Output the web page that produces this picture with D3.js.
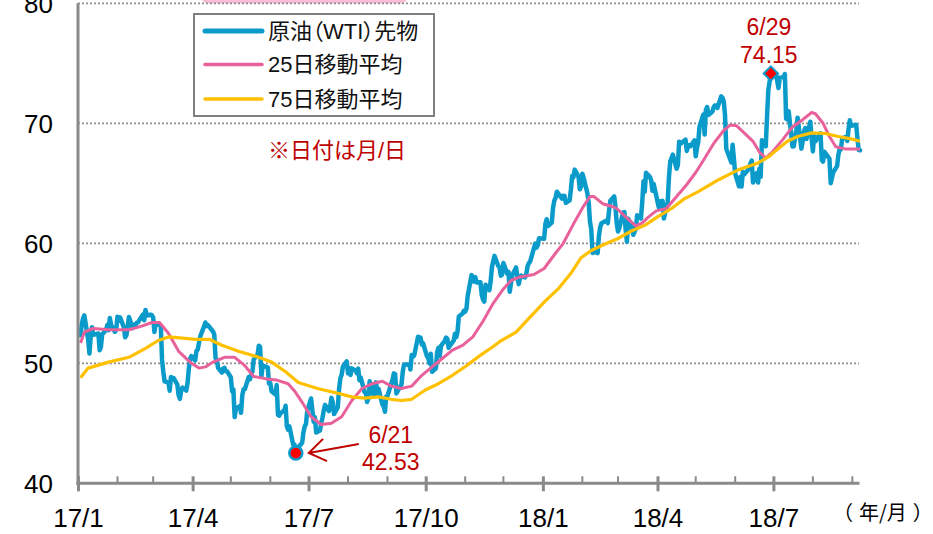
<!DOCTYPE html>
<html>
<head>
<meta charset="utf-8">
<script src="https://cdn.jsdelivr.net/npm/d3@7"></script>
<style>
  html, body { margin: 0; padding: 0; background: #fff; }
  svg { display: block; }
  text { font-family: "Liberation Sans", Arial, "Noto Sans CJK JP", sans-serif; }
  .unit { font-family: "Noto Sans CJK JP", sans-serif; }
</style>
</head>
<body>
<svg id="chart" width="933" height="534"></svg>
<script>
// WTI front-month settlement prices (USD/bbl), one row per month: "day:price"
const wtiMonths = [
  "2017-01","2017-02","2017-03","2017-04","2017-05","2017-06","2017-07","2017-08","2017-09",
  "2017-10","2017-11","2017-12","2018-01","2018-02","2018-03","2018-04","2018-05","2018-06",
  "2018-07","2018-08","2018-09"
];
const wtiCloses = [
  "3:52.33 4:53.26 5:53.76 6:53.99 9:51.96 10:50.82 11:52.25 12:53.01 13:52.37 17:52.48 18:51.08 19:51.37 20:52.42 23:52.75 24:53.18 25:52.75 26:53.78 27:53.17 30:52.63 31:52.81",
  "1:53.88 2:53.54 3:53.83 6:53.01 7:52.17 8:52.34 9:53.00 10:53.86 13:52.93 14:53.20 15:53.11 16:53.36 17:53.40 21:54.06 22:53.59 23:54.45 24:53.99 27:54.05 28:54.01",
  "1:53.83 2:52.61 3:53.33 6:53.20 7:53.14 8:50.28 9:49.28 10:48.49 13:48.40 14:47.72 15:48.86 16:48.75 17:48.78 20:48.22 21:47.34 22:47.04 23:47.70 24:47.97 27:47.73 28:48.37 29:49.51 30:50.35 31:50.60",
  "3:50.24 4:51.03 5:51.15 6:51.70 7:52.24 10:53.08 11:53.40 12:53.11 13:53.18 17:52.65 18:52.41 19:50.44 20:50.27 21:49.62 24:49.23 25:49.56 26:49.62 27:49.33 28:49.33",
  "1:48.84 2:47.66 3:47.82 4:45.52 5:46.22 8:46.43 9:45.88 10:47.33 11:47.83 12:47.84 15:48.85 16:48.66 17:49.07 18:49.35 19:50.33 22:50.73 23:51.47 24:51.36 25:48.90 26:49.80 30:49.66 31:48.32",
  "1:48.36 2:47.66 5:47.40 6:48.19 7:45.72 8:45.64 9:45.83 12:46.08 13:46.46 14:44.73 15:44.46 16:44.74 19:43.20 20:43.23 21:42.53 22:42.74 23:43.01 26:43.38 27:44.24 28:44.74 29:44.93 30:46.04",
  "3:47.07 5:45.13 6:45.52 7:44.23 10:44.40 11:45.04 12:45.49 13:46.08 14:46.54 17:46.02 18:46.40 19:47.12 20:46.79 21:45.77 24:46.34 25:47.89 26:48.75 27:49.04 28:49.71 31:50.17",
  "1:49.16 2:49.59 3:49.03 4:49.58 7:49.39 8:49.17 9:49.56 10:48.59 11:48.82 14:47.59 15:47.55 16:46.78 17:47.09 18:48.51 21:47.37 22:47.64 23:48.41 24:47.43 25:47.87 28:46.57 29:46.44 30:45.96 31:47.23",
  "1:47.29 5:48.66 6:49.16 7:49.09 8:47.48 11:48.07 12:48.23 13:49.30 14:49.89 15:49.89 18:49.91 19:49.48 20:50.69 21:50.55 22:50.66 25:52.22 26:51.88 27:52.14 28:51.56 29:51.67",
  "2:50.58 3:50.42 4:49.98 5:50.79 6:49.29 9:49.58 10:50.92 11:51.30 12:50.60 13:51.45 16:51.87 17:52.15 18:52.04 19:51.29 20:51.47 23:51.90 24:52.47 25:52.18 26:52.64 27:53.90 30:54.15 31:54.38",
  "1:54.30 2:54.54 3:55.64 6:57.35 7:57.20 8:56.81 9:57.17 10:56.74 13:56.76 14:55.70 15:55.33 16:55.14 17:56.55 20:56.09 21:56.83 22:58.02 24:58.95 27:58.11 28:57.99 29:57.30 30:57.40",
  "1:58.36 4:57.47 5:57.62 6:55.96 7:56.69 8:57.36 11:57.99 12:57.14 13:56.60 14:57.04 15:57.30 18:57.16 19:57.46 20:58.09 21:58.36 22:58.47 26:59.97 27:59.64 28:59.84 29:60.42",
  "2:60.37 3:61.63 4:62.01 5:61.44 8:61.73 9:62.96 10:63.57 11:63.80 12:64.30 16:63.73 17:63.97 18:63.95 19:63.37 22:63.57 23:64.47 24:65.61 25:65.51 26:66.14 29:65.56 30:64.50 31:64.73",
  "1:65.80 2:65.45 5:64.15 6:63.39 7:61.79 8:61.15 9:59.20 12:59.29 13:59.19 14:60.60 15:61.34 16:61.68 20:61.90 21:61.68 22:62.77 23:63.55 26:63.91 27:63.01 28:61.64",
  "1:60.99 2:61.25 5:62.57 6:62.60 7:61.15 8:60.12 9:62.04 12:61.36 13:60.71 14:60.96 15:61.19 16:62.34 19:62.06 20:63.40 21:65.17 22:64.30 23:65.88 26:65.55 27:65.25 28:64.38 29:64.94",
  "2:63.01 3:63.51 4:63.37 5:63.54 6:62.06 9:63.42 10:65.51 11:66.82 12:67.07 13:67.39 16:66.22 17:66.52 18:68.47 19:68.29 20:68.38 23:68.64 24:67.70 25:68.05 26:68.19 27:68.10 30:68.57",
  "1:67.25 2:67.93 3:68.43 4:69.72 7:70.73 8:69.06 9:71.14 10:71.36 11:70.70 14:70.96 15:71.31 16:71.49 17:71.49 18:71.28 21:72.24 22:72.13 23:71.84 24:70.71 25:67.88 29:66.73 30:68.21 31:67.04",
  "1:65.81 4:64.75 5:65.52 6:64.73 7:65.95 8:65.74 11:66.10 12:66.36 13:66.64 14:66.89 15:65.06 18:65.85 19:65.07 20:66.22 21:65.54 22:68.58 25:68.08 26:70.53 27:72.76 28:73.45 29:74.15",
  "2:73.94 3:74.14 5:72.94 6:73.80 9:73.85 10:74.11 11:70.38 12:70.33 13:71.01 16:68.06 17:68.08 18:68.76 19:69.46 20:70.46 23:67.89 24:68.52 25:69.30 26:69.61 27:68.69 30:70.13 31:68.76",
  "1:67.66 2:68.96 3:68.49 6:69.01 7:69.17 8:66.94 9:66.81 10:67.63 13:67.20 14:67.04 15:65.01 16:65.46 17:65.91 20:66.43 21:67.35 22:67.86 23:67.83 24:68.72 27:68.87 28:68.53 29:69.51 30:70.25 31:69.80",
  "4:69.87 5:68.72 6:67.77 7:67.75"
];

// 25-day moving average
const ma25 = [
  ["2017-01-03",51.7],["2017-01-06",52.6],["2017-01-13",52.9],["2017-01-25",52.8],["2017-02-10",52.8],
  ["2017-02-20",53.1],["2017-02-28",53.4],["2017-03-06",53.4],["2017-03-13",52.5],["2017-03-21",51.0],
  ["2017-03-31",50.0],["2017-04-06",49.6],["2017-04-11",49.7],["2017-04-17",50.1],["2017-04-26",50.5],
  ["2017-05-04",50.5],["2017-05-12",49.8],["2017-05-19",48.9],["2017-05-29",48.7],["2017-06-06",48.6],
  ["2017-06-15",48.3],["2017-06-20",47.7],["2017-06-26",46.75],["2017-07-03",45.55],["2017-07-11",44.9],
  ["2017-07-19",45.0],["2017-07-27",45.55],["2017-08-04",46.9],["2017-08-12",47.9],["2017-08-20",48.3],
  ["2017-08-28",48.5],["2017-09-04",48.1],["2017-09-12",47.9],["2017-09-20",48.1],["2017-09-28",49.0],
  ["2017-10-06",49.7],["2017-10-14",50.4],["2017-10-22",51.1],["2017-10-30",51.5],["2017-11-07",52.2],
  ["2017-11-15",53.5],["2017-11-23",55.0],["2017-12-01",56.2],["2017-12-07",56.9],["2017-12-14",57.2],
  ["2017-12-25",57.4],["2018-01-02",57.9],["2018-01-09",58.9],["2018-01-17",60.0],["2018-01-25",61.6],
  ["2018-02-02",63.1],["2018-02-07",63.9],["2018-02-10",63.9],["2018-02-17",63.3],["2018-02-25",63.05],
  ["2018-02-28",62.9],["2018-03-07",62.2],["2018-03-15",61.45],["2018-03-20",61.7],["2018-03-25",62.2],
  ["2018-03-31",62.7],["2018-04-08",62.9],["2018-04-16",63.9],["2018-04-24",64.9],["2018-05-01",65.9],
  ["2018-05-07",66.9],["2018-05-15",68.3],["2018-05-23",69.4],["2018-05-28",69.85],["2018-06-02",69.8],
  ["2018-06-07",69.3],["2018-06-15",68.5],["2018-06-20",67.6],["2018-06-25",67.1],["2018-06-30",67.6],
  ["2018-07-08",68.6],["2018-07-16",69.7],["2018-07-24",70.3],["2018-07-31",70.9],["2018-08-03",70.8],
  ["2018-08-09",70.0],["2018-08-14",68.9],["2018-08-19",68.05],["2018-08-27",67.85],["2018-09-07",67.85]
];

// 75-day moving average
const ma75 = [
  ["2017-01-03",48.8],["2017-01-09",49.6],["2017-01-25",50.1],["2017-02-10",50.5],["2017-02-23",51.25],
  ["2017-03-05",51.9],["2017-03-13",52.2],["2017-03-24",52.1],["2017-04-03",52.0],["2017-04-14",52.0],
  ["2017-04-24",51.5],["2017-05-07",51.0],["2017-05-20",50.6],["2017-06-02",50.1],["2017-06-13",49.3],
  ["2017-06-23",48.4],["2017-07-08",47.9],["2017-07-24",47.5],["2017-08-04",47.2],["2017-08-14",47.1],
  ["2017-08-25",47.2],["2017-09-04",47.0],["2017-09-12",46.9],["2017-09-20",47.0],["2017-10-01",47.8],
  ["2017-10-11",48.3],["2017-10-22",49.0],["2017-11-02",49.8],["2017-11-12",50.6],["2017-11-23",51.4],
  ["2017-11-28",51.8],["2017-12-11",52.6],["2017-12-21",53.75],["2018-01-03",55.2],["2018-01-13",56.2],
  ["2018-01-23",57.5],["2018-01-31",58.8],["2018-02-08",59.4],["2018-02-18",59.9],["2018-03-01",60.4],
  ["2018-03-11",61.0],["2018-03-22",61.5],["2018-04-01",62.2],["2018-04-12",62.9],["2018-04-22",63.7],
  ["2018-05-03",64.3],["2018-05-19",65.3],["2018-06-03",66.1],["2018-06-19",66.7],["2018-06-27",67.2],
  ["2018-07-05",67.9],["2018-07-12",68.5],["2018-07-20",68.9],["2018-07-31",69.2],["2018-08-11",69.15],
  ["2018-08-21",68.9],["2018-08-31",68.7],["2018-09-07",68.5]
];

const yTicks = [40, 50, 60, 70, 80];
const quarterTicks = ["2017-01-01","2017-04-01","2017-07-01","2017-10-01","2018-01-01","2018-04-01","2018-07-01"];
const xTickLabels = ["17/1","17/4","17/7","17/10","18/1","18/4","18/7"];
const legendLabels = ["原油（WTI）先物", "25日移動平均", "75日移動平均"];
const unitParts = ["（", "年/月", "）"];
const lowPoint  = { date: "2017-06-21", value: 42.53, label: "6/21" };
const highPoint = { date: "2018-06-29", value: 74.15, label: "6/29" };

const parse = d3.timeParse("%Y-%m-%d");
const wti = [];
wtiMonths.forEach((m, i) => {
  wtiCloses[i].split(" ").forEach(p => {
    const [d, v] = p.split(":");
    wti.push({ date: parse(m + "-" + d.padStart(2, "0")), v: +v });
  });
});
const toSeries = arr => arr.map(([d, v]) => ({ date: parse(d), v }));

const colors = { wti: "#0a9bcb", ma25: "#e9619b", ma75: "#ffc000", axis: "#8a8a8a", red: "#c00000" };

const svg = d3.select("#chart");
const x = d3.scaleTime().domain([parse("2017-01-01"), parse("2018-09-07")]).range([78, 860]);
const y = d3.scaleLinear().domain([40, 80]).range([483.3, 3.3]);
const xLeft = 78, xRight = 859;

// title banner peeking in at the top
svg.append("rect").attr("x", 202).attr("y", -14).attr("width", 205).attr("height", 17.5)
  .attr("rx", 6).attr("fill", "#f6bdd4");

// dotted gridlines
svg.append("g").selectAll("line").data(yTicks.filter(v => v > 40)).join("line")
  .attr("x1", xLeft).attr("x2", xRight).attr("y1", d => y(d)).attr("y2", d => y(d))
  .attr("stroke", "#8f8f8f").attr("stroke-width", 1.8).attr("stroke-dasharray", "2,2");

// series
const line = d3.line().x(d => x(d.date)).y(d => y(d.v));
svg.append("path").datum(wti).attr("d", line).attr("fill", "none")
  .attr("stroke", colors.wti).attr("stroke-width", 4.5).attr("stroke-linejoin", "round").attr("stroke-linecap", "round");
svg.append("path").datum(toSeries(ma25)).attr("d", line).attr("fill", "none")
  .attr("stroke", colors.ma25).attr("stroke-width", 3).attr("stroke-linejoin", "round");
svg.append("path").datum(toSeries(ma75)).attr("d", line).attr("fill", "none")
  .attr("stroke", colors.ma75).attr("stroke-width", 3.2).attr("stroke-linejoin", "round");

// axes
const yAxis = svg.append("g").attr("transform", `translate(${xLeft},0)`)
  .call(d3.axisLeft(y).tickValues(yTicks).tickSize(0).tickPadding(25));
yAxis.select(".domain").remove();
yAxis.selectAll("text").attr("font-family", null).attr("font-size", 26).attr("fill", "#000").attr("dy", "0.36em");

const months = d3.timeMonth.range(parse("2017-01-01"), parse("2018-09-02"));
const quarterDates = quarterTicks.map(parse);
const isQuarter = d => quarterDates.some(q => +q === +d);
const axisY = y(40);
svg.append("g").selectAll("line").data(months.filter(d => !isQuarter(d))).join("line")
  .attr("x1", d => x(d)).attr("x2", d => x(d)).attr("y1", axisY - 7).attr("y2", axisY)
  .attr("stroke", colors.axis).attr("stroke-width", 2);

const xAxis = svg.append("g").attr("transform", `translate(0,${axisY})`)
  .call(d3.axisBottom(x).tickValues(quarterDates).tickFormat((d, i) => xTickLabels[i]).tickSize(8));
xAxis.select(".domain").remove();
xAxis.selectAll(".tick line").attr("y1", -7).attr("y2", 8).attr("stroke", colors.axis).attr("stroke-width", 3);
xAxis.selectAll("text").attr("font-family", null).attr("font-size", 26).attr("fill", "#000").attr("y", 44).attr("dy", 0);

svg.append("line").attr("x1", xLeft).attr("x2", xLeft).attr("y1", y(80)).attr("y2", axisY + 1.5)
  .attr("stroke", colors.axis).attr("stroke-width", 3);
svg.append("line").attr("x1", xLeft - 1.5).attr("x2", xRight + 0.5).attr("y1", axisY).attr("y2", axisY)
  .attr("stroke", colors.axis).attr("stroke-width", 3);

// unit note, brackets spaced out from the inner text
const unit = svg.append("text").attr("class", "unit").attr("x", 833).attr("y", 511)
  .attr("dominant-baseline", "central").attr("font-size", 20).attr("fill", "#000");
unitParts.forEach((t, i) => unit.append("tspan").attr("dx", i === 0 ? 0 : 6).text(t));

// legend
const lg = svg.append("g");
lg.append("rect").attr("x", 194).attr("y", 14).attr("width", 240).attr("height", 102)
  .attr("fill", "#fff").attr("stroke", "#808080").attr("stroke-width", 2);
const legendItems = [
  { label: legendLabels[0], color: colors.wti, w: 5, cy: 31 },
  { label: legendLabels[1], color: colors.ma25, w: 3.5, cy: 64.5 },
  { label: legendLabels[2], color: colors.ma75, w: 3.5, cy: 99 }
];
legendItems.forEach(it => {
  lg.append("line").attr("x1", 205).attr("x2", 262).attr("y1", it.cy).attr("y2", it.cy)
    .attr("stroke", it.color).attr("stroke-width", it.w).attr("stroke-linecap", "round");
  lg.append("text").attr("x", 268).attr("y", it.cy).attr("dominant-baseline", "central")
    .attr("font-size", 22).attr("fill", "#111").style("font-feature-settings", "'palt'").text(it.label);
});

svg.append("text").attr("x", 268).attr("y", 150).attr("dominant-baseline", "central")
  .attr("font-size", 22).attr("fill", colors.red).text("※日付は月/日");

// low-point marker with arrow
const lx = x(parse(lowPoint.date)), ly = y(lowPoint.value);
svg.append("circle").attr("cx", lx).attr("cy", ly).attr("r", 6.5)
  .attr("fill", "#ff0000").attr("stroke", colors.wti).attr("stroke-width", 2.5);
const tip = [lx + 13, ly], tail = [lx + 63, ly - 9];
const ang = Math.atan2(tail[1] - tip[1], tail[0] - tip[0]);
const wing = 20, spread = 0.6;
const w1 = [tip[0] + wing * Math.cos(ang - spread), tip[1] + wing * Math.sin(ang - spread)];
const w2 = [tip[0] + wing * Math.cos(ang + spread), tip[1] + wing * Math.sin(ang + spread)];
svg.append("path").attr("d", `M${tail}L${tip}M${w1}L${tip}L${w2}`)
  .attr("fill", "none").attr("stroke", colors.red).attr("stroke-width", 2);
svg.append("text").attr("x", lx + 95).attr("y", 443).attr("text-anchor", "middle")
  .attr("font-size", 23).attr("fill", colors.red).text(lowPoint.label);
svg.append("text").attr("x", lx + 95).attr("y", 470).attr("text-anchor", "middle")
  .attr("font-size", 23).attr("fill", colors.red).text(lowPoint.value.toFixed(2));

// high-point marker (diamond)
const hx = x(parse(highPoint.date)), hy = y(highPoint.value);
svg.append("path").attr("d", d3.symbol(d3.symbolDiamond2, 130)())
  .attr("transform", `translate(${hx},${hy})`)
  .attr("fill", "#ff0000").attr("stroke", colors.wti).attr("stroke-width", 2);
svg.append("text").attr("x", hx - 2).attr("y", 35).attr("text-anchor", "middle")
  .attr("font-size", 23).attr("fill", colors.red).text(highPoint.label);
svg.append("text").attr("x", hx - 2).attr("y", 63).attr("text-anchor", "middle")
  .attr("font-size", 23).attr("fill", colors.red).text(highPoint.value.toFixed(2));
</script>
</body>
</html>
